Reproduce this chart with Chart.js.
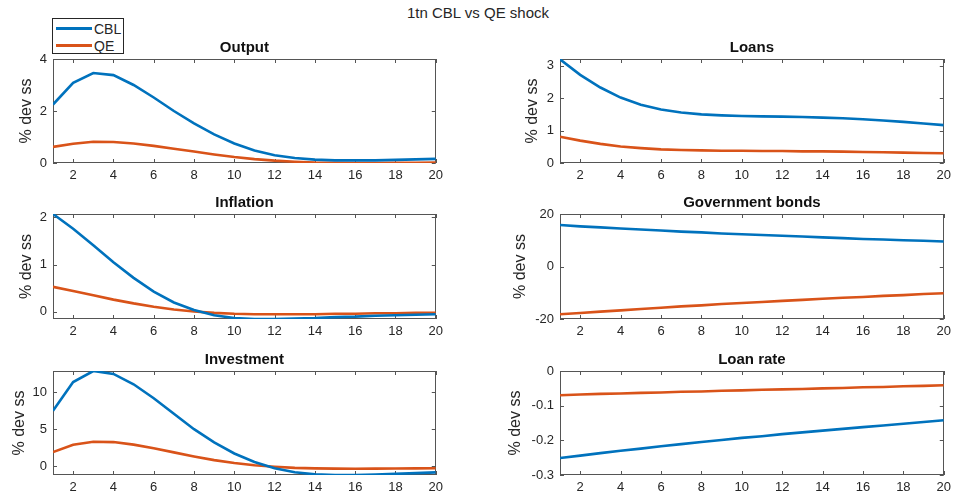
<!DOCTYPE html>
<html>
<head>
<meta charset="utf-8">
<script src="https://cdn.jsdelivr.net/npm/chart.js@4"></script>
<style>
  body { margin: 0; background: #fff; width: 956px; height: 499px; overflow: hidden; position: relative;
         font-family: "Liberation Sans", Arial, sans-serif; color: #262626; }
  canvas { position: absolute; }
  #suptitle { position: absolute; left: 0; width: 956px; top: 4px; line-height: 18px; text-align: center; font-size: 15px; }
  #legend { position: absolute; left: 52px; top: 18px; width: 72px; height: 36px; box-sizing: border-box;
            border: 1px solid #262626; background: #fff; font-size: 14px; }
  #legend .row { position: absolute; left: 3px; height: 16px; line-height: 16px; }
  #legend .swatch { position: absolute; left: 0; top: 6px; width: 36px; height: 2.6px; }
  #legend .label { position: absolute; left: 38px; top: 0; }
</style>
</head>
<body>
<div id="suptitle">1tn CBL vs QE shock</div>

<script>
// impulse responses, quarters 1..20
const periods = [1, 2, 3, 4, 5, 6, 7, 8, 9, 10, 11, 12, 13, 14, 15, 16, 17, 18, 19, 20];
const seriesNames = ['CBL', 'QE'];

const outputCBL = [2.25, 3.08, 3.46, 3.38, 3.0, 2.52, 2.0, 1.52, 1.1, 0.75, 0.48, 0.3, 0.19, 0.13, 0.1, 0.1, 0.1, 0.12, 0.14, 0.16];
const outputQE = [0.62, 0.74, 0.82, 0.81, 0.75, 0.66, 0.55, 0.44, 0.33, 0.23, 0.15, 0.09, 0.05, 0.02, 0.01, 0.0, 0.0, 0.01, 0.01, 0.02];

const loansCBL = [3.2, 2.72, 2.33, 2.02, 1.8, 1.65, 1.56, 1.5, 1.47, 1.45, 1.44, 1.43, 1.42, 1.4, 1.38, 1.35, 1.31, 1.27, 1.22, 1.17];
const loansQE = [0.81, 0.69, 0.59, 0.51, 0.46, 0.42, 0.4, 0.39, 0.38, 0.38, 0.37, 0.37, 0.36, 0.36, 0.35, 0.34, 0.33, 0.32, 0.31, 0.3];

const inflationCBL = [2.07, 1.76, 1.41, 1.05, 0.72, 0.43, 0.2, 0.04, -0.07, -0.13, -0.15, -0.15, -0.14, -0.13, -0.11, -0.1, -0.08, -0.07, -0.06, -0.05];
const inflationQE = [0.53, 0.44, 0.35, 0.26, 0.18, 0.11, 0.05, 0.01, -0.02, -0.04, -0.05, -0.05, -0.05, -0.05, -0.04, -0.04, -0.03, -0.03, -0.02, -0.02];

const bondsCBL = [15.8, 15.3, 14.9, 14.5, 14.1, 13.7, 13.3, 13.0, 12.6, 12.3, 12.0, 11.7, 11.4, 11.1, 10.8, 10.5, 10.3, 10.0, 9.8, 9.5];
const bondsQE = [-18.2, -17.7, -17.2, -16.7, -16.2, -15.7, -15.2, -14.8, -14.3, -13.9, -13.5, -13.1, -12.7, -12.3, -11.9, -11.6, -11.2, -10.9, -10.5, -10.2];

const investmentCBL = [7.5, 11.4, 12.9, 12.5, 11.1, 9.2, 7.1, 5.0, 3.2, 1.7, 0.55, -0.3, -0.85, -1.12, -1.22, -1.22, -1.15, -1.06, -0.96, -0.86];
const investmentQE = [1.9, 2.9, 3.3, 3.25, 2.9, 2.4, 1.85, 1.3, 0.8, 0.4, 0.1, -0.1, -0.25, -0.32, -0.36, -0.37, -0.36, -0.34, -0.32, -0.3];

const loanRateCBL = [-0.251, -0.244, -0.237, -0.230, -0.224, -0.217, -0.211, -0.205, -0.199, -0.193, -0.188, -0.182, -0.177, -0.172, -0.167, -0.162, -0.157, -0.152, -0.147, -0.142];
const loanRateQE = [-0.070, -0.068, -0.066, -0.065, -0.063, -0.062, -0.060, -0.059, -0.057, -0.056, -0.054, -0.053, -0.052, -0.050, -0.049, -0.047, -0.046, -0.044, -0.043, -0.041];

// tick labels
const xTicks = [2, 4, 6, 8, 10, 12, 14, 16, 18, 20];
const outputTicks = [0, 2, 4];
const loansTicks = [0, 1, 2, 3];
const inflationTicks = [0, 1, 2];
const bondsTicks = [-20, 0, 20];
const investmentTicks = [0, 5, 10];
const loanRateTicks = [-0.3, -0.2, -0.1, 0];

const colors = ['#0072BD', '#D95319'];
const axisColor = '#555555';
const textColor = '#262626';

Chart.defaults.font.family = '"Liberation Sans", Arial, sans-serif';
Chart.defaults.color = textColor;

// subplot grid (plot-area edges in page pixels)
const cols = [{ left: 53, right: 438 }, { left: 560, right: 946 }];
const rows = [{ top: 59, bottom: 163 }, { top: 214, bottom: 319 }, { top: 371, bottom: 475 }];

const panels = [
  { title: 'Output', col: 0, row: 0, cbl: outputCBL, qe: outputQE, ticks: outputTicks, min: 0, max: 4, labelX: 27 },
  { title: 'Loans', col: 1, row: 0, cbl: loansCBL, qe: loansQE, ticks: loansTicks, min: 0, max: 3.21, labelX: 533 },
  { title: 'Inflation', col: 0, row: 1, cbl: inflationCBL, qe: inflationQE, ticks: inflationTicks, min: -0.15, max: 2.07, labelX: 27 },
  { title: 'Government bonds', col: 1, row: 1, cbl: bondsCBL, qe: bondsQE, ticks: bondsTicks, min: -20, max: 20, labelX: 521 },
  { title: 'Investment', col: 0, row: 2, cbl: investmentCBL, qe: investmentQE, ticks: investmentTicks, min: -1.22, max: 12.9, labelX: 20 },
  { title: 'Loan rate', col: 1, row: 2, cbl: loanRateCBL, qe: loanRateQE, ticks: loanRateTicks, min: -0.3, max: 0, labelX: 516 }
];

const labelSize = 16;
const titleSize = 15;
const tickSize = 13;
const titleGap = 20;   // title band above the plot area
const xAxisHeight = 22;
const rightPad = 10;

// box around the axes with inward tick marks on all four sides
const axesBox = {
  id: 'axesBox',
  beforeDatasetsDraw(chart) {
    const { ctx, chartArea: a, scales: { x, y } } = chart;
    const len = 4;
    ctx.save();
    ctx.strokeStyle = axisColor;
    ctx.lineWidth = 1;
    ctx.strokeRect(Math.round(a.left) + 0.5, Math.round(a.top) + 0.5, Math.round(a.width) - 1, Math.round(a.height) - 1);
    ctx.beginPath();
    x.ticks.forEach(t => {
      const px = Math.round(x.getPixelForValue(t.value)) + 0.5;
      ctx.moveTo(px, a.bottom); ctx.lineTo(px, a.bottom - len);
      ctx.moveTo(px, a.top); ctx.lineTo(px, a.top + len);
    });
    y.ticks.forEach(t => {
      const py = Math.round(y.getPixelForValue(t.value)) + 0.5;
      ctx.moveTo(a.left, py); ctx.lineTo(a.left + len, py);
      ctx.moveTo(a.right, py); ctx.lineTo(a.right - len, py);
    });
    ctx.stroke();
    ctx.restore();
  }
};

panels.forEach(p => {
  const c = cols[p.col], r = rows[p.row];
  const canvasLeft = Math.round(p.labelX - labelSize * 0.6);
  const canvasTop = r.top - titleGap;
  const width = c.right + rightPad - canvasLeft;
  const height = r.bottom - canvasTop + xAxisHeight;

  const canvas = document.createElement('canvas');
  canvas.width = width;
  canvas.height = height;
  canvas.style.left = canvasLeft + 'px';
  canvas.style.top = canvasTop + 'px';
  document.body.appendChild(canvas);

  const series = [p.cbl, p.qe];
  new Chart(canvas, {
    type: 'line',
    data: {
      datasets: series.map((vals, i) => ({
        label: seriesNames[i],
        data: periods.map((t, k) => ({ x: t, y: vals[k] })),
        borderColor: colors[i],
        borderWidth: 2.6,
        pointRadius: 0,
        tension: 0,
        fill: false
      }))
    },
    options: {
      responsive: false,
      animation: false,
      layout: { padding: { left: 0, top: 0, right: rightPad, bottom: 0 } },
      plugins: {
        legend: { display: false },
        tooltip: { enabled: false },
        title: {
          display: true,
          text: p.title,
          fullSize: false,
          color: '#111111',
          font: { size: titleSize, weight: 'bold' },
          padding: { top: 0, bottom: titleGap - titleSize * 1.2 }
        }
      },
      scales: {
        x: {
          type: 'linear',
          min: 1,
          max: 20,
          grid: { display: false, drawTicks: false },
          border: { display: false },
          ticks: { autoSkip: false, maxRotation: 0, padding: 5, font: { size: tickSize }, color: textColor },
          afterBuildTicks: s => { s.ticks = xTicks.map(v => ({ value: v })); },
          afterFit: s => { s.height = xAxisHeight; }
        },
        y: {
          type: 'linear',
          min: p.min,
          max: p.max,
          grid: { display: false, drawTicks: false },
          border: { display: false },
          ticks: { padding: 6, font: { size: tickSize }, color: textColor, callback: v => String(v) },
          title: { display: true, text: '% dev ss', padding: 0, color: textColor, font: { size: labelSize } },
          afterBuildTicks: s => { s.ticks = p.ticks.map(v => ({ value: v })); },
          afterFit: s => { s.width = c.left - canvasLeft; }
        }
      }
    },
    plugins: [axesBox]
  });
});
</script>

<div id="legend">
  <div class="row" style="top:2px"><span class="swatch" style="background:#0072BD"></span><span class="label">CBL</span></div>
  <div class="row" style="top:19px"><span class="swatch" style="background:#D95319"></span><span class="label">QE</span></div>
</div>
</body>
</html>
